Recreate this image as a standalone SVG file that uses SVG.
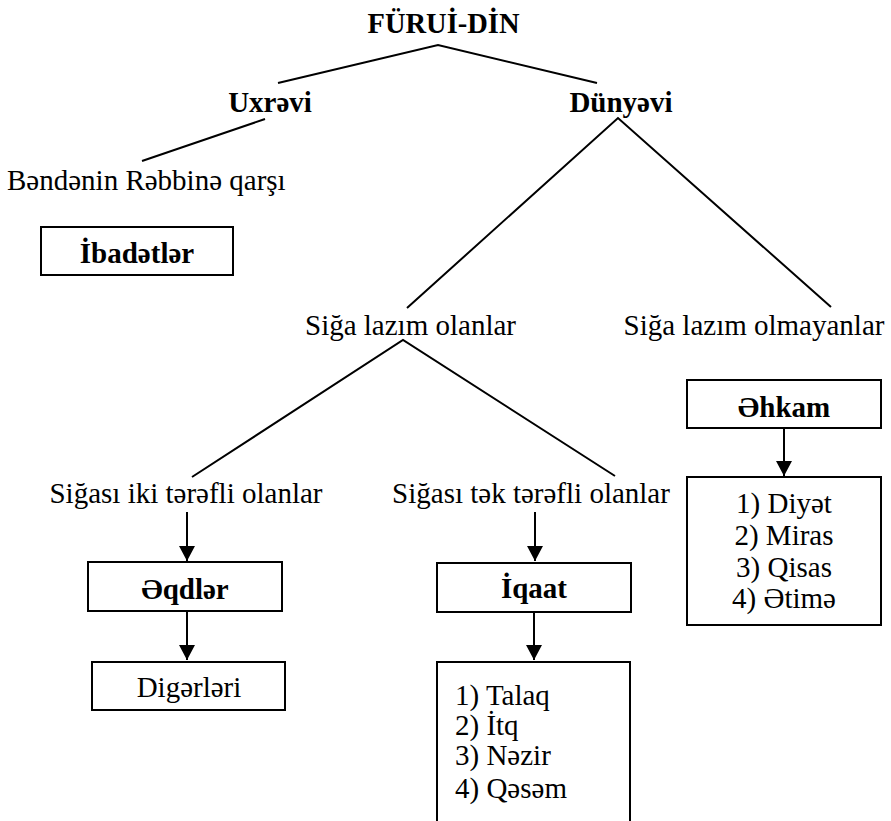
<svg xmlns="http://www.w3.org/2000/svg" width="891" height="821" viewBox="0 0 891 821" font-family="'Liberation Serif', 'Times New Roman', Tinos, 'DejaVu Serif', serif">
<defs>
<marker id="ah" markerUnits="userSpaceOnUse" markerWidth="16" markerHeight="18" refX="15" refY="8" orient="auto">
<path d="M0,0 L15,8 L0,16 z" fill="#000"/>
</marker>
<style>
text{font-family:'Liberation Serif','Times New Roman',Tinos,'DejaVu Serif',serif;font-size:29px;fill:#000}
.b{font-weight:bold}
.c{text-anchor:middle}
.box{fill:#fff;stroke:#000;stroke-width:2}
.ln{stroke:#000;stroke-width:2;fill:none}
.ar{stroke:#000;stroke-width:2;fill:none;marker-end:url(#ah)}
</style>
</defs>
<rect width="891" height="821" fill="#fff"/>
<g id="connectors">
<polyline class="ln" points="278,83 438,45 597,83"/>
<line class="ln" x1="265" y1="119" x2="142" y2="161"/>
<polyline class="ln" points="407,308 618,118 831,307"/>
<polyline class="ln" points="192,477 403,340 615,476"/>
<line class="ar" x1="187" y1="512" x2="187" y2="561"/>
<line class="ar" x1="187" y1="611" x2="187" y2="660"/>
<line class="ar" x1="535" y1="512" x2="535" y2="561"/>
<line class="ar" x1="534" y1="612" x2="534" y2="660"/>
<line class="ar" x1="784" y1="428" x2="784" y2="476"/>
</g>
<g id="furui-din"><text class="b c" x="443.5" y="33" style="font-size:28.5px">FÜRUİ-DİN</text></g>
<g id="uxrevi"><text class="b c" x="270" y="112">Uxrəvi</text></g>
<g id="dunyevi"><text class="b c" x="621" y="112">Dünyəvi</text></g>
<g id="bendenin"><text x="7" y="190">Bəndənin Rəbbinə qarşı</text></g>
<g id="ibadetler"><rect class="box" x="41" y="227" width="192" height="48"/><text class="b c" x="137" y="263">İbadətlər</text></g>
<g id="siga-lazim"><text class="c" x="410.5" y="335">Siğa lazım olanlar</text></g>
<g id="siga-lazim-olmayan"><text class="c" x="754" y="335">Siğa lazım olmayanlar</text></g>
<g id="iki-terefli"><text class="c" x="186" y="503">Siğası iki tərəfli olanlar</text></g>
<g id="tek-terefli"><text class="c" x="531" y="503">Siğası tək tərəfli olanlar</text></g>
<g id="eqdler"><rect class="box" x="88" y="562" width="194" height="49"/><text class="b c" x="185" y="599">Əqdlər</text></g>
<g id="digerleri"><rect class="box" x="92" y="662" width="193" height="48"/><text class="c" x="189" y="697">Digərləri</text></g>
<g id="iqaat"><rect class="box" x="437" y="563" width="194" height="49"/><text class="b c" x="534" y="598">İqaat</text></g>
<g id="iqaat-list"><path class="ln" d="M437,822 V662 H630 V822"/>
<text x="455" y="705">1) Talaq</text>
<text x="455" y="735">2) İtq</text>
<text x="455" y="765">3) Nəzir</text>
<text x="455" y="798">4) Qəsəm</text>
</g>
<g id="ehkam"><rect class="box" x="687" y="380" width="194" height="48"/><text class="b c" x="784" y="417">Əhkam</text></g>
<g id="ehkam-list"><rect class="box" x="687" y="477" width="194" height="148"/>
<text class="c" x="784" y="513">1) Diyət</text>
<text class="c" x="784" y="545">2) Miras</text>
<text class="c" x="784" y="577">3) Qisas</text>
<text class="c" x="784" y="608">4) Ətimə</text>
</g>
</svg>
